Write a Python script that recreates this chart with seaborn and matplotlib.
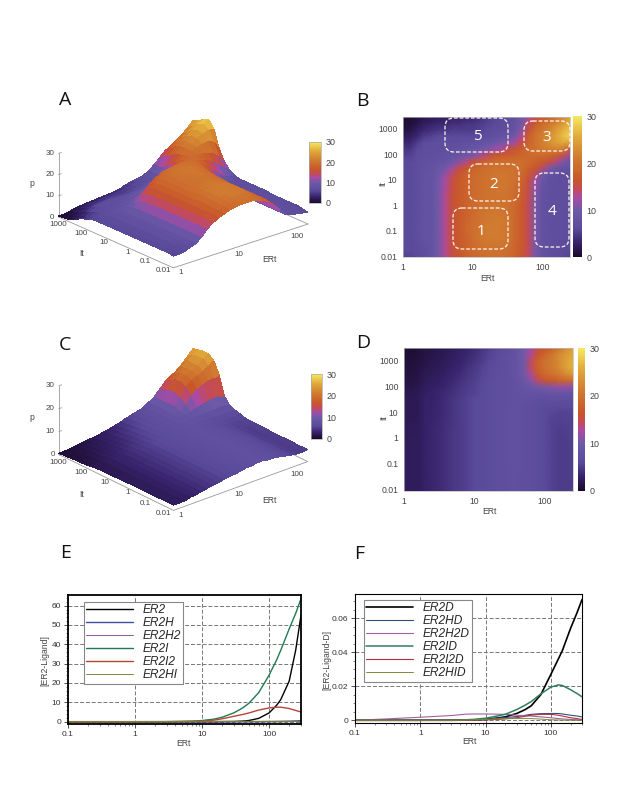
"""
Six panel figure: ER2 dimer surfaces, heatmaps and ligand binding curves.
"""

import numpy as np
import matplotlib
matplotlib.use('Agg')
import matplotlib.pyplot as plt
from matplotlib.colors import LinearSegmentedColormap, Normalize
from matplotlib.cm import ScalarMappable
from matplotlib.patches import FancyBboxPatch
from mpl_toolkits.mplot3d import proj3d
import seaborn as sns

W, H = 625, 789

# grid of the surfaces and heatmaps
ert_cols = [1, 1.26, 1.58, 2, 2.51, 3.16, 3.98, 5.01, 6.31, 7.94, 10, 12.6, 15.8, 20, 25.1,
            31.6, 39.8, 50.1, 63.1, 79.4, 100, 126, 158, 200, 251]
it_rows = [0.01, 0.0178, 0.0316, 0.0562, 0.1, 0.178, 0.316, 0.562, 1, 1.78, 3.16, 5.62, 10,
           17.8, 31.6, 56.2, 100, 178, 316, 562, 1000, 1780, 3160]

# p for panels A and B, rows go from low It to high It
p_ab = [
    [5.5, 5.5, 6, 7, 8, 10, 13, 15, 16.5, 17.5, 18.5, 19, 19.5, 19.5, 19.5, 19, 18, 16.5, 14, 10.5, 8, 7, 6.5, 6, 5.5],
    [6, 6, 6.5, 7, 8, 10, 13, 15, 17, 18, 19, 19.5, 20, 20, 20, 19.5, 18.5, 17, 14.5, 10.5, 8, 7, 7, 6.5, 6],
    [6, 6, 6.5, 7.5, 8, 10, 13, 15.5, 17, 18, 19, 20, 20.5, 20.5, 20.5, 20, 18.5, 17, 14.5, 10.5, 8, 7.5, 7, 6.5, 6.5],
    [6, 6, 7, 8, 8, 10, 13, 15.5, 17, 18, 19.5, 20.5, 21, 21, 21, 20.5, 19, 17, 14.5, 10.5, 8, 7.5, 7, 7, 6.5],
    [6, 6, 7, 8, 8, 10, 13, 15.5, 17, 18.5, 19.5, 20.5, 21, 21, 21, 20.5, 19, 17, 14.5, 10.5, 8, 7.5, 7, 7, 6.5],
    [6, 6, 7, 8, 8, 10, 13, 15.5, 17, 18.5, 19.5, 20.5, 21, 21, 21, 20.5, 19, 17, 14.5, 10.5, 8, 7.5, 7, 7, 6.5],
    [6, 6, 7, 8, 8, 10, 13, 15.5, 17, 18, 19.5, 20, 20.5, 21, 21, 20.5, 19, 17, 14.5, 10.5, 8, 7.5, 7, 7, 6.5],
    [6, 6, 7, 8, 8, 10, 13, 15.5, 17, 18, 19, 20, 20.5, 20.5, 20.5, 20, 19, 17, 14.5, 10.5, 8, 7.5, 7, 7, 6.5],
    [6, 6, 7, 8, 8, 10, 13, 15.5, 17, 18, 19, 20, 20, 20.5, 20.5, 20, 19, 17, 14.5, 10.5, 8, 7.5, 7, 7, 7],
    [6, 6, 7, 8, 8, 10, 13, 15.5, 17, 18, 19, 19.5, 20, 20, 20, 20, 19, 17.5, 14.5, 10.5, 8, 7.5, 7, 7, 7],
    [6, 6, 7, 8, 8, 10, 13, 15.5, 17, 18, 19, 19.5, 20, 20, 20.5, 20, 19.5, 17.5, 15, 11, 8, 7.5, 7, 7, 7],
    [6, 6, 7, 8, 8, 10, 12.5, 15, 17, 18, 19, 19.5, 20, 20.5, 20.5, 20.5, 19.5, 18, 15, 11.5, 8.5, 7.5, 7, 7, 7],
    [6, 6, 7, 8, 8, 10, 12.5, 15, 17, 18, 19, 19.5, 20, 20.5, 20.5, 20.5, 20, 18.5, 15.5, 12, 9, 7.5, 7, 7, 7],
    [6, 6, 7, 8, 8, 9.5, 11.5, 14, 16.5, 18, 19, 19.5, 20, 20.5, 20.5, 20.5, 20, 19, 17, 14, 10, 8, 7.5, 7, 7],
    [6, 6, 7, 7.5, 8, 9, 10, 12, 14.5, 16.5, 18, 19, 19.5, 20, 20, 20, 20, 19.5, 18, 16.5, 14, 11, 9, 8, 7.5],
    [6, 6, 7, 7.5, 7.5, 8, 8.5, 9.5, 11, 13, 15.5, 17, 18.5, 19, 19.5, 19.5, 19.5, 19.5, 19, 18, 17, 15.5, 13.5, 11, 9],
    [5.5, 5.5, 6.5, 7, 7, 7.5, 8, 8, 8.5, 9.5, 10.5, 12, 14, 16, 17, 17.5, 18, 18.5, 19, 19, 19, 18.5, 17.5, 15, 12],
    [4.5, 4.5, 6, 7, 7, 7, 7, 7.5, 8, 8.5, 9, 9.5, 10.5, 11.5, 12.5, 14.5, 16, 17.5, 19, 20, 21, 21.5, 22, 21, 17],
    [3.5, 3.5, 5, 6.5, 7, 7, 7, 7, 7, 7.5, 7.5, 8, 8.5, 9, 10, 11, 12.5, 15, 18, 20, 21.5, 23, 24.5, 25.5, 25],
    [2, 2.5, 3.5, 5, 5.5, 6, 6, 6, 6, 6, 6, 6.5, 7, 7.5, 8, 8.5, 10, 13, 17.5, 20, 21.5, 23, 25, 27, 28.5],
    [1, 1.5, 2.5, 3.5, 4, 4.5, 4.5, 5, 5, 5, 5, 5.5, 6, 6.5, 7, 7.5, 8.5, 11, 15.5, 19, 20.5, 22, 24, 26, 27.5],
    [0.7, 0.8, 1.5, 2.5, 3, 3.5, 3.5, 4, 4, 4.5, 4.5, 5, 5.5, 6, 6.5, 7, 8, 10, 14, 17, 19, 20.5, 22, 24, 26],
    [0.5, 0.6, 1, 1.8, 2, 2.3, 2.5, 2.8, 3, 3.2, 3.5, 4, 5, 5.5, 6, 6.5, 8, 10, 12.5, 15, 16.5, 18, 20, 22.5, 25],
]

# p for panels C and D
p_cd = [
    [2.3, 2.3, 2.3, 3, 3.3, 3.7, 4.2, 4.7, 5, 5.5, 6, 6, 6.5, 7, 7, 7.5, 7.5, 7, 7, 6.5, 6, 5.5, 5, 5, 5.2],
    [2.3, 2.3, 2.3, 3, 3.3, 3.7, 4.2, 4.7, 5, 5.5, 6, 6, 6.5, 7, 7, 7.5, 7.5, 7, 7, 6.5, 6, 5.5, 5, 5, 5.2],
    [2.3, 2.3, 2.3, 3, 3.3, 3.7, 4.2, 4.7, 5, 5.5, 6, 6, 6.5, 7, 7, 7.5, 7.5, 7, 7, 6.5, 6, 5.5, 5, 5, 5.2],
    [2.3, 2.3, 2.3, 3, 3.3, 3.7, 4.2, 4.7, 5, 5.5, 6, 6, 6.5, 7, 7, 7.5, 7.5, 7.2, 7, 6.5, 6, 5.5, 5, 5, 5.3],
    [2.3, 2.3, 2.3, 3, 3.3, 3.7, 4.2, 4.7, 5, 5.5, 6, 6.2, 6.5, 7, 7.2, 7.5, 7.5, 7.2, 7, 6.5, 6, 5.5, 5, 5, 5.3],
    [2.3, 2.3, 2.3, 3, 3.3, 3.7, 4.2, 4.7, 5, 5.5, 6, 6.2, 6.5, 7, 7.2, 7.5, 7.5, 7.2, 7, 6.5, 6, 5.5, 5, 5, 5.3],
    [2.3, 2.3, 2.3, 3, 3.3, 3.7, 4.2, 4.7, 5, 5.5, 6, 6.2, 6.5, 7, 7.2, 7.5, 7.5, 7.2, 7, 6.5, 6, 5.5, 5, 5, 5.3],
    [2.3, 2.3, 2.3, 3, 3.3, 3.7, 4.2, 4.7, 5, 5.5, 6, 6.2, 6.5, 7, 7.2, 7.5, 7.5, 7.2, 7, 6.5, 6, 5.5, 5, 5, 5.3],
    [2.3, 2.3, 2.3, 3, 3.3, 3.7, 4.2, 4.7, 5, 5.5, 6, 6.2, 6.5, 7, 7.2, 7.5, 7.5, 7.2, 7, 6.5, 6, 5.5, 5, 5, 5.5],
    [2.2, 2.2, 2.2, 3, 3.3, 3.7, 4.2, 4.7, 5, 5.5, 6, 6.2, 6.5, 7, 7.2, 7.5, 7.5, 7.2, 7, 6.5, 6, 5.5, 5, 5.2, 5.5],
    [2.2, 2.2, 2.2, 3, 3.3, 3.6, 4.2, 4.6, 5, 5.5, 6, 6.2, 6.5, 7, 7.2, 7.5, 7.5, 7.2, 7, 6.5, 6, 5.5, 5.2, 5.2, 5.5],
    [2.1, 2.1, 2.1, 3, 3.2, 3.6, 4.1, 4.6, 5, 5.5, 6, 6.2, 6.5, 7, 7.2, 7.5, 7.5, 7.2, 7, 6.5, 6, 5.5, 5.3, 5.5, 5.5],
    [2, 2, 2, 3, 3.2, 3.5, 4, 4.5, 5, 5.5, 6, 6.2, 6.5, 7, 7.2, 7.5, 7.5, 7.2, 7, 6.5, 6, 5.8, 5.5, 5.5, 5.7],
    [2, 2, 2, 3, 3.1, 3.5, 4, 4.5, 5, 5.5, 6, 6, 6.5, 7, 7, 7.5, 7.5, 7.3, 7, 6.7, 6.3, 6, 6, 6, 6.5],
    [2, 2, 2, 3, 3, 3.5, 4, 4.5, 5, 5.5, 6, 6, 6.5, 7, 7, 7.5, 7.5, 7.5, 7.5, 7, 7, 7, 7, 7, 7],
    [1.8, 1.8, 2, 2.8, 3, 3.3, 3.8, 4.2, 4.8, 5.2, 5.5, 6, 6.5, 7, 7, 7.5, 7.5, 8, 8, 8, 8, 8.5, 8.5, 8.5, 8],
    [1.5, 1.5, 1.8, 2.5, 2.8, 3, 3.5, 4, 4.5, 5, 5.5, 6, 6.5, 7, 7, 7.5, 8, 8.5, 9, 10, 10.5, 11, 11.5, 11.5, 11],
    [1.3, 1.3, 1.5, 2.2, 2.5, 2.8, 3.2, 3.6, 4.2, 4.8, 5.2, 5.8, 6.5, 7, 7, 7.5, 8, 9, 11, 14, 16, 17, 18, 18.5, 19],
    [1.1, 1.1, 1.3, 2, 2.2, 2.5, 2.9, 3.3, 3.8, 4.5, 5, 5.6, 6.2, 6.8, 7, 7.5, 8.5, 10, 13, 17, 19, 20, 21, 22.5, 24],
    [1, 1, 1.2, 1.7, 2, 2.2, 2.6, 3, 3.5, 4.2, 4.8, 5.4, 6, 6.5, 7, 7.5, 8.5, 10, 14, 18, 20, 21, 22.5, 24.5, 26],
    [0.8, 0.8, 1, 1.5, 1.8, 2, 2.4, 2.8, 3.2, 3.8, 4.4, 5, 5.8, 6.3, 7, 7.5, 8.5, 10, 14, 18, 20, 21, 22.5, 24.5, 26],
    [0.7, 0.7, 0.9, 1.3, 1.6, 1.8, 2.2, 2.5, 3, 3.5, 4, 4.7, 5.5, 6, 6.8, 7.3, 8.5, 10, 13, 16.5, 18.5, 20.5, 22.5, 24, 25.5],
    [0.6, 0.6, 0.8, 1.2, 1.4, 1.7, 2, 2.3, 2.7, 3.2, 3.8, 4.4, 5.2, 5.8, 6.5, 7, 8.5, 10, 12.5, 15, 16.5, 18, 20, 22.5, 25],
]

# curves of panels E and F
ert_line = [0.1, 0.3, 1, 3, 5, 7, 10, 15, 20, 30, 40, 50, 70, 100, 130, 150, 200, 250, 300]

er2 = [0, 0, 0, 0, 0, 0, 0, 0, 0.05, 0.1, 0.3, 0.6, 1.7, 4.5, 8.5, 11.5, 21, 37, 55]
er2h = [0, 0, 0, 0, 0, 0, 0, 0, 0, 0, 0, 0, 0, 0.05, 0.1, 0.15, 0.25, 0.4, 0.5]
er2h2 = [0, 0, 0, 0, 0, 0, 0, 0, 0, 0, 0, 0, 0, 0, 0, 0, 0, 0, 0.05]
er2i = [0, 0, 0, 0.05, 0.15, 0.3, 0.6, 1.3, 2.3, 4.6, 7, 9.5, 15, 24, 32, 37, 48, 56, 63.5]
er2i2 = [0, 0, 0, 0, 0.05, 0.1, 0.25, 0.8, 1.5, 2.8, 3.7, 4.5, 6, 7.1, 7.5, 7.5, 6.8, 5.8, 5]
er2hi = [0, 0, 0, 0.1, 0.2, 0.2, 0.2, 0.2, 0.2, 0.2, 0.2, 0.2, 0.2, 0.2, 0.2, 0.2, 0.2, 0.2, 0.1]

er2d = [0, 0, 0, 0, 0.0001, 0.0003, 0.0005, 0.0013, 0.002, 0.004, 0.0062, 0.0085, 0.015, 0.027, 0.036, 0.041, 0.054, 0.063, 0.071]
er2hd = [0, 0, 0, 0.0001, 0.0002, 0.0004, 0.0006, 0.0012, 0.0016, 0.0022, 0.0029, 0.0035, 0.0039, 0.004, 0.004, 0.0037, 0.003, 0.0025, 0.002]
er2h2d = [0, 0.0008, 0.0018, 0.0028, 0.0036, 0.0037, 0.0037, 0.0036, 0.0035, 0.003, 0.0027, 0.0025, 0.002, 0.0015, 0.001, 0.0008, 0.0005, 0.0003, 0.0002]
er2id = [0, 0, 0, 0.0001, 0.0003, 0.0006, 0.0012, 0.0025, 0.0035, 0.0063, 0.0088, 0.011, 0.0155, 0.0195, 0.0208, 0.0205, 0.018, 0.0158, 0.0138]
er2i2d = [0, 0, 0, 0, 0, 0.0001, 0.0002, 0.0005, 0.0008, 0.0015, 0.0023, 0.003, 0.0035, 0.0035, 0.003, 0.0025, 0.0015, 0.001, 0.0005]
er2hid = [0, 0, 0, 0, 0.0001, 0.0003, 0.0005, 0.0008, 0.001, 0.001, 0.001, 0.001, 0.0007, 0.0003, 0.0002, 0.0001, 0.0001, 0, 0]

ert_ticks = [1, 10, 100]
it_ticks = [0.01, 0.1, 1, 10, 100, 1000]
it_labels = ['0.01', '0.1', '1', '10', '100', '1000']
p_ticks = [0, 10, 20, 30]

PALETTE = LinearSegmentedColormap.from_list('gnu', [
    (0.00, '#1a0a2a'), (0.10, '#36226a'), (0.20, '#5a4a9a'), (0.33, '#6c5aa8'),
    (0.42, '#aa4aa5'), (0.48, '#c44a58'), (0.55, '#c8562a'), (0.70, '#d07a30'),
    (0.85, '#e0a83a'), (1.00, '#f6e860'),
])
NORM = Normalize(0, 30)
SMALL = 5.8
TICK_COLOR = '#444444'


def px_rect(left, top, right, bottom):
    """Axes rectangle in figure fractions from pixel edges."""
    return [left / W, 1 - bottom / H, (right - left) / W, (bottom - top) / H]


def add_colorbar(fig, box):
    cax = fig.add_axes(px_rect(*box))
    cb = fig.colorbar(ScalarMappable(norm=NORM, cmap=PALETTE), cax=cax, ticks=p_ticks)
    cb.outline.set_edgecolor('#aaaaaa')
    cb.outline.set_linewidth(0.5)
    cax.tick_params(labelsize=SMALL + 0.6, length=0, pad=3, colors=TICK_COLOR)
    return cax


def draw_surface(fig, center, size, p_grid, elev, azim, box_lengths):
    """3D surface over log10 ERt and log10 It, axes drawn by hand like gnuplot."""
    cx, cy = center
    rect = px_rect(cx - size / 2, cy - size / 2, cx + size / 2, cy + size / 2)
    ax = fig.add_axes(rect, projection='3d', proj_type='ortho', computed_zorder=False)
    ax.patch.set_alpha(0)
    ax.view_init(elev=elev, azim=azim)
    norm_len = np.linalg.norm(box_lengths)
    zoom = norm_len * 1.9 / 1.9057 / size * 0.97
    ax.set_box_aspect(box_lengths, zoom=zoom)

    xs = np.log10(ert_cols)
    ys = np.log10(it_rows)
    X, Y = np.meshgrid(xs, ys)
    ax.set_xlim(xs[0], xs[-1])
    ax.set_ylim(ys[0], ys[-1])
    ax.set_zlim(0, 30)
    ax.set_axis_off()

    ax.plot_surface(X, Y, np.array(p_grid), cmap=PALETTE, norm=NORM, rstride=1, cstride=1,
                    linewidth=0, antialiased=False, shade=False, zorder=2)

    # base lines and vertical axis
    line = dict(color='#999999', lw=0.6, zorder=1)
    ax.plot([xs[0], xs[-1]], [ys[0], ys[0]], [0, 0], **line)
    ax.plot([xs[0], xs[0]], [ys[0], ys[-1]], [0, 0], **line)
    ax.plot([xs[-1], xs[-1]], [ys[0], ys[-1]], [0, 0], **line)
    ax.plot([xs[0], xs[0]], [ys[-1], ys[-1]], [0, 30], **line)

    proj = ax.get_proj()

    def note(x, y, z, text, dx, dy, ha):
        x2, y2, _ = proj3d.proj_transform(x, y, z, proj)
        ax.annotate(text, (x2, y2), xytext=(dx, dy), textcoords='offset points', ha=ha,
                    va='center', fontsize=SMALL, color=TICK_COLOR, annotation_clip=False)

    for tick in ert_ticks:
        note(np.log10(tick), ys[0], 0, str(tick), 3.5, -3.5, 'left')
    for tick, label in zip(it_ticks, it_labels):
        note(xs[0], np.log10(tick), 0, label, -1.5, -2, 'right')
    for tick in p_ticks:
        note(xs[0], ys[-1], tick, str(tick), -3, 0, 'right')
        ax.plot([xs[0], xs[0] + 0.05], [ys[-1], ys[-1]], [tick, tick], **line)
    return ax


def draw_heatmap(fig, box, cbar_box, p_grid):
    ax = fig.add_axes(px_rect(*box))
    cax = fig.add_axes(px_rect(*cbar_box))
    sns.heatmap(np.array(p_grid), ax=ax, cbar_ax=cax, cmap=PALETTE, vmin=0, vmax=30,
                shading='gouraud', cbar_kws={'ticks': p_ticks})
    ncols, nrows = len(ert_cols), len(it_rows)
    ax.set_xlim(0, ncols - 1)
    ax.set_ylim(0, nrows - 1)
    xpos = np.interp(np.log10(ert_ticks), np.log10(ert_cols), np.arange(ncols))
    ypos = np.interp(np.log10(it_ticks), np.log10(it_rows), np.arange(nrows))
    ax.set_xticks(xpos)
    ax.set_xticklabels([str(t) for t in ert_ticks], rotation=0)
    ax.set_yticks(ypos)
    ax.set_yticklabels(it_labels, rotation=0)
    ax.tick_params(labelsize=SMALL + 0.4, length=2, width=0.4, direction='in', pad=4,
                   colors=TICK_COLOR)
    for spine in ax.spines.values():
        spine.set_visible(True)
        spine.set_linewidth(0.5)
        spine.set_edgecolor('#bbbbbb')
    cax.tick_params(labelsize=SMALL + 0.6, length=0, pad=3, colors=TICK_COLOR)
    return ax


def draw_curves(fig, box, series, ylim, yticks, yminor, legend_anchor, thick_frame):
    ax = fig.add_axes(px_rect(*box))
    for label, values, color, lw in series:
        sns.lineplot(x=ert_line, y=values, ax=ax, color=color, linewidth=lw, label=label,
                     errorbar=None)
    ax.set_xscale('log')
    ax.set_xlim(0.1, 300)
    ax.set_ylim(*ylim)
    ax.set_xticks([0.1, 1, 10, 100])
    ax.set_xticklabels(['0.1', '1', '10', '100'])
    ax.set_yticks(yticks)
    ax.set_yticks(yminor, minor=True)
    ax.set_yticklabels([f'{t:g}' for t in yticks])
    ax.grid(True, which='major', color='#777777', linestyle=(0, (4, 2)), linewidth=0.7)
    ax.tick_params(which='major', labelsize=6.0, length=3, width=0.6, left=True, bottom=True,
                   colors='#333333', pad=2)
    ax.tick_params(which='minor', length=1.5, width=0.4, left=True, bottom=True)
    ax.set_axisbelow(True)
    for spine in ax.spines.values():
        spine.set_visible(True)
        spine.set_color('black')
        spine.set_linewidth(1.3 if thick_frame else 0.8)
    leg = ax.legend(loc='upper left', bbox_to_anchor=legend_anchor, fancybox=False, framealpha=1,
                    edgecolor='#888888', borderpad=0.2, labelspacing=0.08, handlelength=3.9,
                    handletextpad=0.8, borderaxespad=0,
                    prop={'family': 'Liberation Sans', 'style': 'italic', 'size': 8.6})
    leg.get_frame().set_linewidth(0.8)
    return ax


sns.set_theme(style='white')
plt.rcParams['font.family'] = ['Liberation Sans', 'DejaVu Sans']

fig = plt.figure(figsize=(W / 100, H / 100), dpi=100, facecolor='white')

draw_surface(fig, (179.5, 192.5), 280, p_ab, 22.3, -130.6, (178, 177, 69))
add_colorbar(fig, (309, 142, 321, 203))
draw_surface(fig, (179.5, 427.5), 280, p_cd, 24.9, -130.8, (178, 176, 76))
add_colorbar(fig, (311, 374, 322, 439))

draw_heatmap(fig, (403, 117, 570, 257), (573, 116, 582, 257), p_ab)
draw_heatmap(fig, (404, 348, 573, 491), (578, 348, 585, 491), p_cd)

series_e = [
    ('ER2', er2, 'black', 1.0),
    ('ER2H', er2h, '#3f4f9f', 1.0),
    ('ER2H2', er2h2, '#8a5a9a', 0.7),
    ('ER2I', er2i, '#1f7a4f', 1.0),
    ('ER2I2', er2i2, '#b5453a', 1.0),
    ('ER2HI', er2hi, '#7a8a3a', 0.7),
]
series_f = [
    ('ER2D', er2d, 'black', 1.2),
    ('ER2HD', er2hd, '#2f4f7f', 0.8),
    ('ER2H2D', er2h2d, '#a060a0', 0.8),
    ('ER2ID', er2id, '#2f7f5f', 1.1),
    ('ER2I2D', er2i2d, '#b03040', 0.8),
    ('ER2HID', er2hid, '#7a8a3a', 0.7),
]
draw_curves(fig, (68, 595, 301, 724), series_e, (-1.2, 65.5),
            [0, 10, 20, 30, 40, 50, 60], np.arange(0, 65, 2), (0.069, 0.946), True)
draw_curves(fig, (355, 594, 582, 723), series_f, (-0.0016, 0.0743),
            [0, 0.02, 0.04, 0.06], np.arange(0, 0.074, 0.005), (0.04, 0.953), False)

# overlay in pixel coordinates for panel letters, outlines and axis titles
over = fig.add_axes([0, 0, 1, 1], zorder=10)
over.set_xlim(0, W)
over.set_ylim(H, 0)
over.axis('off')
over.patch.set_alpha(0)

letters = {'A': (65, 100), 'B': (362, 101), 'C': (65, 345), 'D': (363, 343), 'E': (66, 553), 'F': (359, 554)}
for letter, (x, y) in letters.items():
    over.text(x, y, letter, fontsize=14, family='Open Sans', ha='center', va='center', color='#111111')

regions = {
    '5': (445, 118, 508, 152, 477, 136),
    '3': (524, 121, 570, 151, 547, 137),
    '2': (469, 164, 519, 201, 494, 184),
    '1': (453, 208, 508, 249, 481, 231),
    '4': (535, 173, 569, 247, 552, 211),
}
for name, (x0, y0, x1, y1, tx, ty) in regions.items():
    over.add_patch(FancyBboxPatch((x0 + 8, y0 + 8), x1 - x0 - 16, y1 - y0 - 16,
                                  boxstyle='round,pad=8,rounding_size=9', fill=False,
                                  edgecolor='#fff4ee', linewidth=0.9, linestyle=(0, (3, 1.5))))
    over.text(tx, ty, name, color='white', fontsize=11, family='Open Sans', ha='center', va='center')

titles = [
    (32, 183, 'p', 0), (82, 253, 'It', 0), (269, 260, 'ERt', 0),
    (32, 417, 'p', 0), (82, 494, 'It', 0), (269, 500, 'ERt', 0),
    (383, 184, 'It', 90), (487, 278, 'ERt', 0),
    (384, 418, 'It', 90), (489, 511, 'ERt', 0),
    (183, 743, 'ERt', 0), (45, 661, '[ER2-Ligand]', 90),
    (469, 742, 'ERt', 0), (327, 660, '[ER2-Ligand-D]', 90),
]
for x, y, text, rot in titles:
    over.text(x, y, text, fontsize=SMALL + 0.4, rotation=rot, ha='center', va='center', color=TICK_COLOR)

fig.savefig('out.png', dpi=100)
